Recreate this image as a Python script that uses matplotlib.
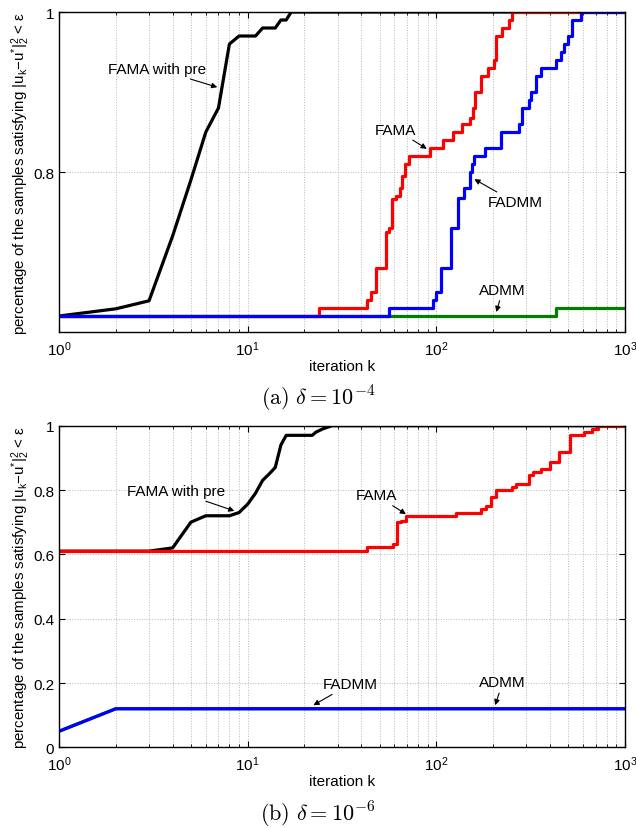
import matplotlib
matplotlib.use("Agg")
import matplotlib.pyplot as plt
from matplotlib.ticker import LogLocator

plt.rcParams['font.family'] = ['Liberation Sans', 'DejaVu Sans']
plt.rcParams['mathtext.fontset'] = 'custom'
plt.rcParams['mathtext.rm'] = 'Liberation Sans'
plt.rcParams['mathtext.it'] = 'Liberation Sans:italic'
plt.rcParams['mathtext.bf'] = 'Liberation Sans:bold'

# ---------------- data: panel (a), delta = 1e-4 ----------------
black_a_k = [1, 2, 3, 4, 5, 6, 7, 8, 9, 10, 11, 12, 13, 14, 15, 16, 17, 1000]
black_a_v = [0.62, 0.629, 0.639, 0.72, 0.79, 0.85, 0.88, 0.96, 0.97, 0.97, 0.97,
             0.98, 0.98, 0.98, 0.99, 0.99, 1.0, 1.0]

red_a_k = [1, 24, 43, 45, 48, 54, 56, 58, 61, 64, 66, 68, 72, 93, 108, 123, 137,
           150, 156, 160, 172, 189, 201, 207, 223, 243, 251, 1000]
red_a_v = [0.62, 0.63, 0.64, 0.65, 0.68, 0.725, 0.73, 0.766, 0.77, 0.78, 0.795,
           0.81, 0.82, 0.83, 0.84, 0.85, 0.86, 0.867, 0.88, 0.90, 0.92, 0.93,
           0.94, 0.97, 0.98, 0.99, 1.0, 1.0]

blue_a_k = [1, 56, 96, 100, 106, 120, 131, 141, 150, 154, 159, 182, 220, 275, 286,
            308, 317, 337, 358, 429, 456, 475, 500, 522, 583, 1000]
blue_a_v = [0.62, 0.63, 0.64, 0.65, 0.68, 0.73, 0.768, 0.78, 0.80, 0.81, 0.82,
            0.83, 0.85, 0.86, 0.88, 0.89, 0.90, 0.92, 0.93, 0.94, 0.95, 0.96,
            0.97, 0.99, 1.0, 1.0]

green_a_k = [1, 429, 1000]
green_a_v = [0.62, 0.63, 0.63]

# ---------------- data: panel (b), delta = 1e-6 ----------------
black_b_k = [1, 2, 3, 4, 5, 6, 7, 8, 9, 10, 11, 12, 13, 14, 15, 16, 22, 23, 25, 28, 1000]
black_b_v = [0.61, 0.61, 0.61, 0.62, 0.70, 0.72, 0.72, 0.72, 0.73, 0.756, 0.79,
             0.83, 0.85, 0.87, 0.94, 0.97, 0.97, 0.98, 0.99, 1.0, 1.0]

red_b_k = [1, 43, 59, 62, 65, 69, 127, 172, 183, 195, 207, 251, 264, 308, 326, 358,
           401, 448, 509, 607, 672, 715, 1000]
red_b_v = [0.61, 0.622, 0.632, 0.70, 0.705, 0.72, 0.73, 0.74, 0.75, 0.777, 0.80,
           0.81, 0.82, 0.846, 0.855, 0.865, 0.886, 0.919, 0.971, 0.979, 0.989, 1.0, 1.0]

blue_b_k = [1, 2, 1000]
blue_b_v = [0.05, 0.12, 0.12]
green_b_k = [1, 2, 1000]
green_b_v = [0.05, 0.12, 0.12]

yticks_a = [0.8, 1.0]
yticklabels_a = ['0.8', '1']
yticks_b = [0, 0.2, 0.4, 0.6, 0.8, 1.0]
yticklabels_b = ['0', '0.2', '0.4', '0.6', '0.8', '1']

ylabel = ('percentage of the samples satisfying |u$_{\\mathregular{k}}$\u2212u$^{\\mathregular{*}}$|'
          '$_{\\mathregular{2}}^{\\mathregular{2}}$ < \u03b5')

RED = '#ff0000'
BLUE = '#0000ff'
GREEN = '#007f00'
LW = 2.3
FS = 11

fig = plt.figure(figsize=(6.36, 8.29), dpi=100)
ax1 = fig.add_axes([0.0928, 0.5983, 0.8899, 0.386])
ax2 = fig.add_axes([0.0928, 0.0973, 0.8899, 0.388])


def style(ax):
    ax.set_xscale('log')
    ax.set_xlim(1, 1000)
    ax.xaxis.set_major_locator(LogLocator(base=10, numticks=10))
    ax.xaxis.set_minor_locator(LogLocator(base=10, subs=range(2, 10), numticks=20))
    ax.grid(True, which='major', axis='both', linestyle=':', color='0.72', linewidth=0.7)
    ax.grid(True, which='minor', axis='x', linestyle=':', color='0.72', linewidth=0.7)
    ax.tick_params(which='both', direction='in', top=True, right=True, labelsize=FS)
    ax.tick_params(axis='x', which='major', pad=5)
    ax.tick_params(which='major', length=4, width=0.8)
    ax.tick_params(which='minor', length=2.5, width=0.6)
    for s in ax.spines.values():
        s.set_linewidth(1.0)
    ax.set_xlabel('iteration k', fontsize=FS, labelpad=1)
    ax.set_ylabel(ylabel, fontsize=10.8, labelpad=1)


# panel (a)
ax1.plot(black_a_k, black_a_v, color='k', lw=LW)
ax1.plot(red_a_k, red_a_v, color=RED, lw=LW, drawstyle='steps-post')
ax1.plot(green_a_k, green_a_v, color=GREEN, lw=LW, drawstyle='steps-post')
ax1.plot(blue_a_k, blue_a_v, color=BLUE, lw=LW, drawstyle='steps-post')
style(ax1)
ax1.set_ylim(0.6, 1.0)
ax1.set_yticks(yticks_a)
ax1.set_yticklabels(yticklabels_a)

arr = dict(arrowstyle='-|>', color='k', lw=0.8, mutation_scale=8, shrinkA=1, shrinkB=0)
ax1.annotate('FAMA with pre', xy=(6.9, 0.906), xytext=(3.3, 0.929), ha='center', va='center',
             fontsize=FS, arrowprops=arr)
ax1.annotate('FAMA', xy=(89, 0.829), xytext=(61, 0.853), ha='center', va='center',
             fontsize=FS, arrowprops=arr)
ax1.annotate('FADMM', xy=(159, 0.791), xytext=(262, 0.762), ha='center', va='center',
             fontsize=FS, arrowprops=arr)
ax1.annotate('ADMM', xy=(208, 0.625), xytext=(225, 0.653), ha='center', va='center',
             fontsize=FS, arrowprops=arr)

# panel (b)
ax2.plot(black_b_k, black_b_v, color='k', lw=LW)
ax2.plot(red_b_k, red_b_v, color=RED, lw=LW, drawstyle='steps-post')
ax2.plot(green_b_k, green_b_v, color=GREEN, lw=LW)
ax2.plot(blue_b_k, blue_b_v, color=BLUE, lw=LW)
style(ax2)
ax2.set_ylim(0, 1.0)
ax2.set_yticks(yticks_b)
ax2.set_yticklabels(yticklabels_b)

ax2.annotate('FAMA with pre', xy=(8.5, 0.735), xytext=(4.16, 0.797), ha='center', va='center',
             fontsize=FS, arrowprops=arr)
ax2.annotate('FAMA', xy=(69, 0.725), xytext=(48, 0.784), ha='center', va='center',
             fontsize=FS, arrowprops=arr)
ax2.annotate('FADMM', xy=(22.3, 0.131), xytext=(35, 0.197), ha='center', va='center',
             fontsize=FS, arrowprops=arr)
ax2.annotate('ADMM', xy=(205, 0.131), xytext=(225, 0.203), ha='center', va='center',
             fontsize=FS, arrowprops=arr)

fig.text(0.5, 1 - 399 / 829, r'$\mathrm{(a)}\ \delta = 10^{-4}$', ha='center', va='center',
         fontsize=16, math_fontfamily='cm')
fig.text(0.5, 1 - 815 / 829, r'$\mathrm{(b)}\ \delta = 10^{-6}$', ha='center', va='center',
         fontsize=16, math_fontfamily='cm')

fig.savefig('out.png', dpi=100)
